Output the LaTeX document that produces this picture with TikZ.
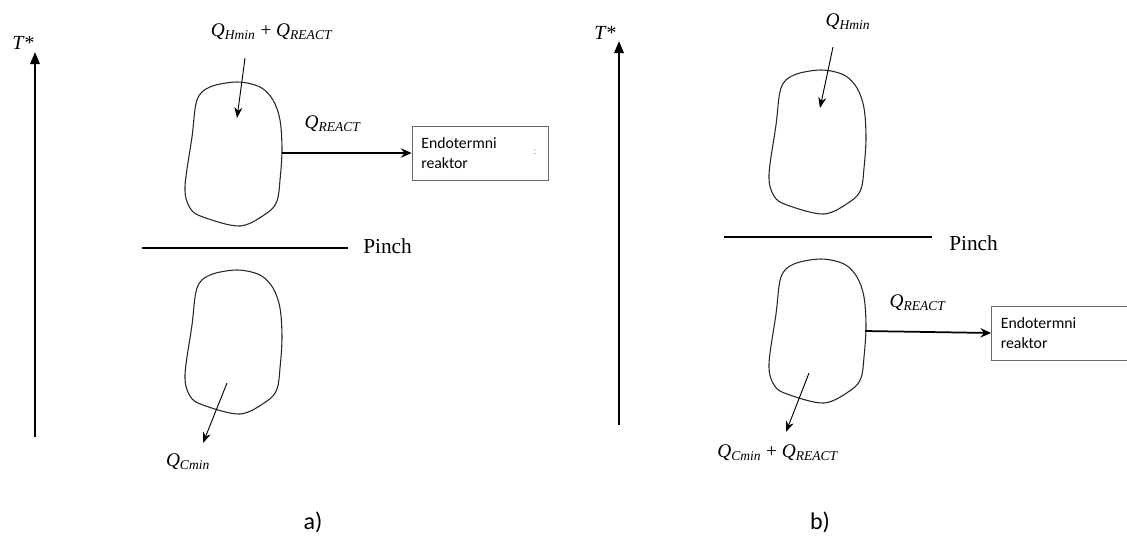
\documentclass[tikz,border=0pt]{standalone}
\usepackage{fontspec}
\setmainfont{Liberation Serif}
\newfontfamily\calib{Carlito}
\usetikzlibrary{arrows.meta}
\newcommand\Qsub[1]{\textit{Q}\textsubscript{\textit{#1}}}
\tikzset{
  blob/.style={draw=black!85, line width=0.8pt},
  axis/.style={line width=1.6pt, -{Triangle[length=9pt,width=7pt]}},
  pinchline/.style={line width=1.6pt},
  heat/.style={line width=0.7pt, -{Stealth[length=8pt,width=6pt]}},
  flow/.style={line width=1.3pt, -{Stealth[length=8pt,width=7pt]}},
  reactor/.style={draw=black!60, line width=0.6pt, minimum width=102pt, minimum height=40.5pt,
    inner xsep=7pt, text width=88pt, align=left, font=\calib\fontsize{11.8}{15}\selectfont},
  qlab/.style={font=\fontsize{14.5}{16}\selectfont, inner sep=0pt},
  txt/.style={font=\fontsize{16}{18}\selectfont, inner sep=0pt},
  panellabel/.style={font=\calib\fontsize{18}{20}\selectfont, inner sep=0pt}
}
\begin{document}
\begin{tikzpicture}[x=0.75pt,y=-0.75pt]
\useasboundingbox (0,0) rectangle (1127,536);
\def\blobshape{(4,-73) (27,-68) (40,-55) (47,-35) (49,-5) (47,25) (44,46) (34,58) (7,71) (-30,62) (-43,53) (-48,32) (-41,-18) (-36,-55) (-23,-68)}
% ---------- panel a ----------
\coordinate (aAxB) at (35,437);
\coordinate (aAxT) at (35,52);
\draw[axis] (aAxB) -- (aAxT);
\node[qlab, font=\fontsize{15}{17}\selectfont] (aT) at (23,43) {\textit{T*}};
\draw[blob, shift={(233,155)}] plot[smooth cycle, tension=0.55] coordinates {\blobshape};
\draw[blob, shift={(233,343)}] plot[smooth cycle, tension=0.55] coordinates {\blobshape};
\node[qlab] (aQtop) at (272,32) {\Qsub{Hmin} + \Qsub{REACT}};
\coordinate (aIn1) at (245,58);
\coordinate (aIn2) at (237,118);
\draw[heat] (aIn1) -- (aIn2);
\node[qlab] (aQr) at (333,124) {\Qsub{REACT}};
\coordinate (aBlobR) at (282,153);
\node[reactor] (aBox) at (480,153) {Endotermni\\reaktor};
\node[font=\calib\fontsize{8}{9}\selectfont, text=blue!40!gray!60, inner sep=0pt] (aColon) at (535,152) {:};
\draw[flow] (aBlobR) -- (aBox.west);
\coordinate (aP1) at (142,248);
\coordinate (aP2) at (348,248);
\draw[pinchline] (aP1) -- (aP2);
\node[txt, anchor=base west] (aPinch) at (363,253) {Pinch};
\coordinate (aOut1) at (227,383);
\coordinate (aOut2) at (203,443);
\draw[heat] (aOut1) -- (aOut2);
\node[qlab] (aQc) at (188,462) {\Qsub{Cmin}};
\node[panellabel] (aLab) at (313,522) {a)};
% ---------- panel b ----------
\coordinate (bAxB) at (619,425);
\coordinate (bAxT) at (619,41);
\draw[axis] (bAxB) -- (bAxT);
\node[qlab, font=\fontsize{15}{17}\selectfont] (bT) at (605,33) {\textit{T*}};
\draw[blob, shift={(817,143)}] plot[smooth cycle, tension=0.55] coordinates {\blobshape};
\draw[blob, shift={(817,332)}] plot[smooth cycle, tension=0.55] coordinates {\blobshape};
\node[qlab] (bQh) at (848,22) {\Qsub{Hmin}};
\coordinate (bIn1) at (833,47);
\coordinate (bIn2) at (820,108);
\draw[heat] (bIn1) -- (bIn2);
\coordinate (bP1) at (724,237);
\coordinate (bP2) at (932,237);
\draw[pinchline] (bP1) -- (bP2);
\node[txt, anchor=base west] (bPinch) at (949,250) {Pinch};
\node[qlab] (bQr) at (918,303) {\Qsub{REACT}};
\coordinate (bBlobR) at (865,331);
\node[reactor] (bBox) at (1059.5,333) {Endotermni\\reaktor};
\draw[flow] (bBlobR) -- (bBox.west);
\coordinate (bOut1) at (809,373);
\coordinate (bOut2) at (786,432);
\draw[heat] (bOut1) -- (bOut2);
\node[qlab] (bQc) at (778,453) {\Qsub{Cmin} + \Qsub{REACT}};
\node[panellabel] (bLab) at (820,522) {b)};
\end{tikzpicture}
\end{document}
